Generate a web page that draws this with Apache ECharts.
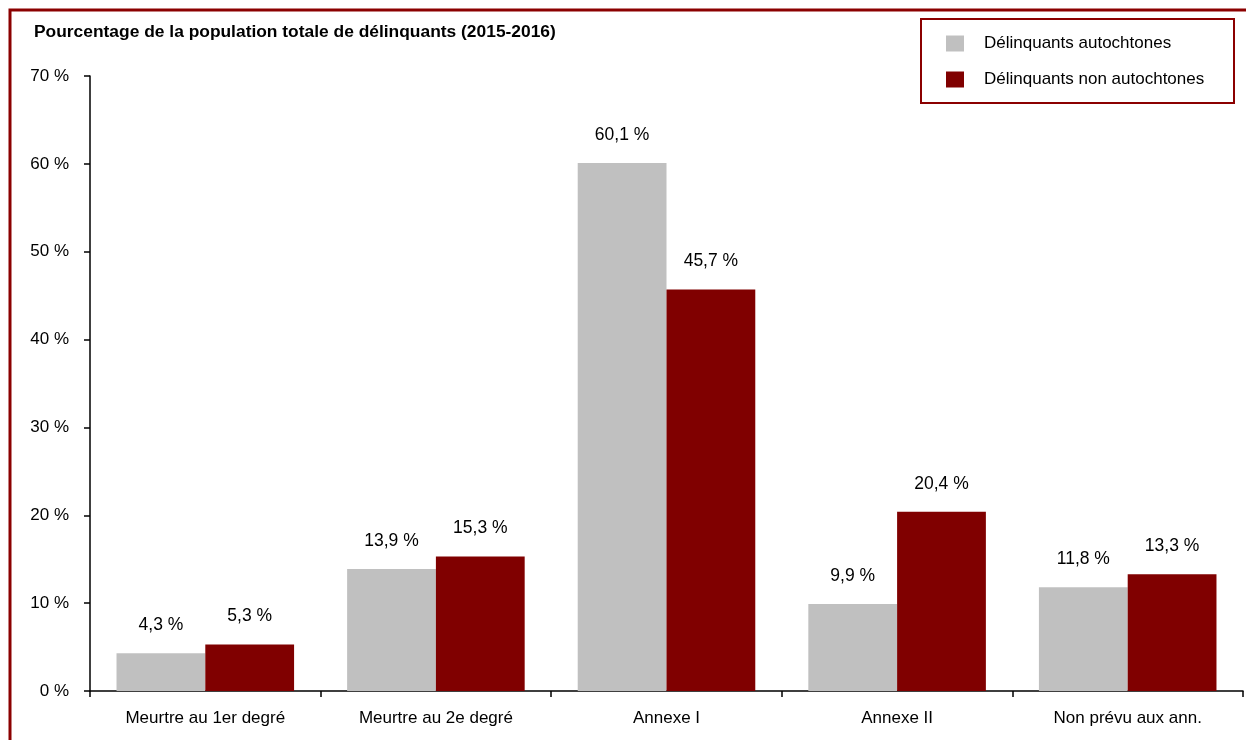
<!DOCTYPE html>
<html>
<head>
<meta charset="utf-8">
<script src="https://cdn.jsdelivr.net/npm/echarts@6/dist/echarts.min.js"></script>
<style>
  html, body { margin: 0; padding: 0; background: #fff; }
  #chart { width: 1246px; height: 740px; }
</style>
</head>
<body>
<div id="chart"></div>
<script>
// Offence categories and share of each offender population (%)
const categories = ['Meurtre au 1er degré', 'Meurtre au 2e degré', 'Annexe I', 'Annexe II', 'Non prévu aux ann.'];
const autochtones = [4.3, 13.9, 60.1, 9.9, 11.8];
const nonAutochtones = [5.3, 15.3, 45.7, 20.4, 13.3];
const seriesNames = ['Délinquants autochtones', 'Délinquants non autochtones'];
const chartTitle = 'Pourcentage de la population totale de délinquants (2015-2016)';

const FONT = '"Liberation Sans", Arial, sans-serif';
const frameColor = '#8B0000';

const chart = echarts.init(document.getElementById('chart'), null, { renderer: 'canvas' });

const fmtPct = v => String(v).replace('.', ',') + ' %';

const labelStyle = {
  show: true,
  position: 'top',
  distance: 19,
  color: '#000',
  fontFamily: FONT,
  fontSize: 17.5,
  formatter: p => fmtPct(p.value)
};

chart.setOption({
  animation: false,
  backgroundColor: '#fff',
  title: {
    text: chartTitle,
    left: 34,
    top: 24,
    padding: 0,
    textStyle: { fontFamily: FONT, fontSize: 17.4, fontWeight: 'bold', color: '#000' }
  },
  legend: {
    orient: 'vertical',
    left: 946,
    top: 35,
    padding: 0,
    itemWidth: 18,
    itemHeight: 16,
    itemGap: 19,
    icon: 'rect',
    textStyle: { fontFamily: FONT, fontSize: 17, color: '#000', padding: [0, 0, 0, 15] },
    data: seriesNames
  },
  graphic: [
    {
      type: 'rect',
      silent: true,
      shape: { x: 10, y: 10, width: 1300, height: 800 },
      style: { fill: 'none', stroke: frameColor, lineWidth: 3 }
    },
    {
      type: 'rect',
      silent: true,
      shape: { x: 921, y: 19, width: 313, height: 84 },
      style: { fill: 'none', stroke: frameColor, lineWidth: 2 }
    }
  ],
  grid: { left: 90, right: 3, top: 76, bottom: 49, containLabel: false },
  xAxis: {
    type: 'category',
    data: categories,
    axisLine: { lineStyle: { color: '#000', width: 1.5 } },
    axisTick: { show: true, length: 6, lineStyle: { color: '#000', width: 1.5 } },
    axisLabel: { color: '#000', fontFamily: FONT, fontSize: 17, margin: 19 }
  },
  yAxis: {
    type: 'value',
    min: 0,
    max: 70,
    interval: 10,
    axisLine: { show: true, lineStyle: { color: '#000', width: 1.5 } },
    axisTick: { show: true, length: 6, lineStyle: { color: '#000', width: 1.5 } },
    splitLine: { show: false },
    axisLabel: { color: '#000', fontFamily: FONT, fontSize: 17, margin: 21, formatter: v => v + ' %' }
  },
  series: [
    {
      name: seriesNames[0],
      type: 'bar',
      data: autochtones,
      barGap: '0%',
      barCategoryGap: '23%',
      itemStyle: { color: '#C0C0C0' },
      label: labelStyle
    },
    {
      name: seriesNames[1],
      type: 'bar',
      data: nonAutochtones,
      itemStyle: { color: '#800000' },
      label: labelStyle
    }
  ]
});
</script>
</body>
</html>
